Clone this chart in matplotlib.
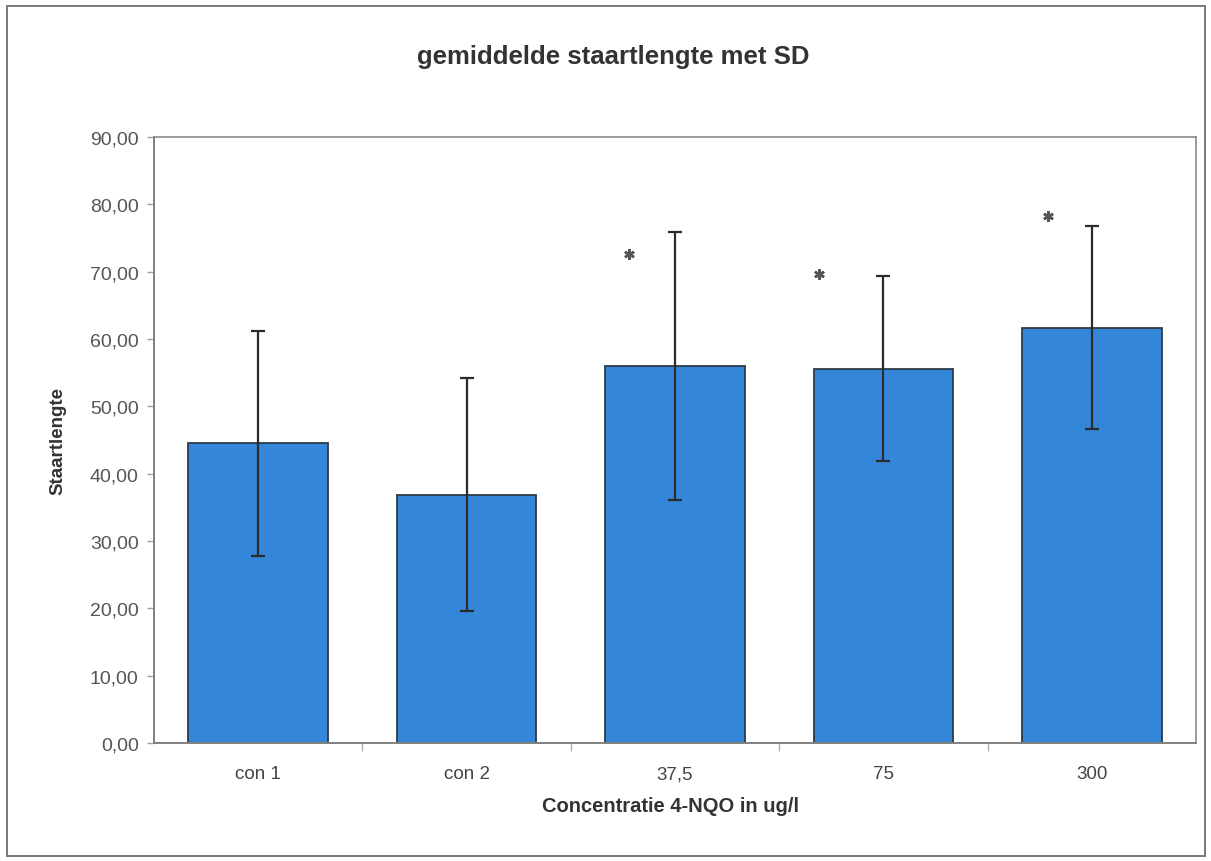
import matplotlib
matplotlib.use("Agg")
import matplotlib.pyplot as plt
from matplotlib.patches import Rectangle

# Mean tail length per concentration group, with standard deviation
categories = ["con 1", "con 2", "37,5", "75", "300"]
mean_tail = [44.5, 36.9, 56.0, 55.6, 61.7]
sd_tail = [16.7, 17.3, 19.9, 13.7, 15.1]

# Significance markers (group index, height, horizontal shift from bar centre)
star_groups = [2, 3, 4]
star_heights = [72.6, 69.7, 78.3]
star_shift = [-0.22, -0.31, -0.21]

y_ticks = [0, 10, 20, 30, 40, 50, 60, 70, 80, 90]

plt.rcParams["font.family"] = ["Liberation Sans", "DejaVu Sans"]

fig = plt.figure(figsize=(12.11, 8.62), dpi=100)
fig.patch.set_facecolor("white")

# outer chart frame
fig.add_artist(Rectangle((7 / 1211, 5 / 862), 1198 / 1211, 850 / 862,
                         transform=fig.transFigure, fill=False,
                         edgecolor="#7a7a7a", linewidth=1.4))

ax = fig.add_axes([154 / 1211, 1 - 744 / 862, 1042 / 1211, 606 / 862])

x = list(range(len(categories)))
ax.bar(x, mean_tail, width=0.67, color="#3386d8", edgecolor="#2f3b45",
       linewidth=1.3, zorder=2)
ax.errorbar(x, mean_tail, yerr=sd_tail, fmt="none", ecolor="#2b2b2b",
            elinewidth=1.6, capsize=5, capthick=1.6, zorder=3)

for g, h, s in zip(star_groups, star_heights, star_shift):
    ax.plot(g + s, h, marker=(6, 2, 0), markersize=7.5, color="#555555",
            markeredgewidth=1.8, zorder=4)

ax.set_xlim(-0.5, len(categories) - 0.5)
ax.set_ylim(0, 90)

ax.set_yticks(y_ticks)
ax.set_yticklabels([f"{v:.2f}".replace(".", ",") for v in y_ticks])
ax.tick_params(axis="y", direction="out", length=5, width=1, color="#a0a0a0",
               labelsize=14, labelcolor="#555555", pad=6)

# boundary ticks between categories, labels at category centres
ax.set_xticks([i + 0.5 for i in range(len(categories) - 1)])
ax.set_xticklabels([])
ax.tick_params(axis="x", which="major", direction="out", length=6, width=1,
               color="#b0b0b0")
ax.set_xticks(x, minor=True)
ax.set_xticklabels(categories, minor=True)
ax.tick_params(axis="x", which="minor", length=0, labelsize=13.5,
               labelcolor="#444444", pad=16)

for side in ["left", "bottom"]:
    ax.spines[side].set_color("#7f7f7f")
    ax.spines[side].set_linewidth(1.4)
for side in ["top", "right"]:
    ax.spines[side].set_color("#8a8a8a")
    ax.spines[side].set_linewidth(1.2)

fig.text(0.506, 1 - 57 / 862, "gemiddelde staartlengte met SD",
         ha="center", va="center", fontsize=18.5, fontweight="bold",
         color="#333333")
fig.text(58 / 1211, 1 - 441 / 862, "Staartlengte", rotation=90,
         ha="center", va="center", fontsize=13.5, fontweight="bold",
         color="#333333")
fig.text(671 / 1211, 1 - 807 / 862, "Concentratie 4-NQO in ug/l",
         ha="center", va="center", fontsize=14.5, fontweight="bold",
         color="#333333")

fig.savefig("out.png", dpi=100, facecolor="white")
